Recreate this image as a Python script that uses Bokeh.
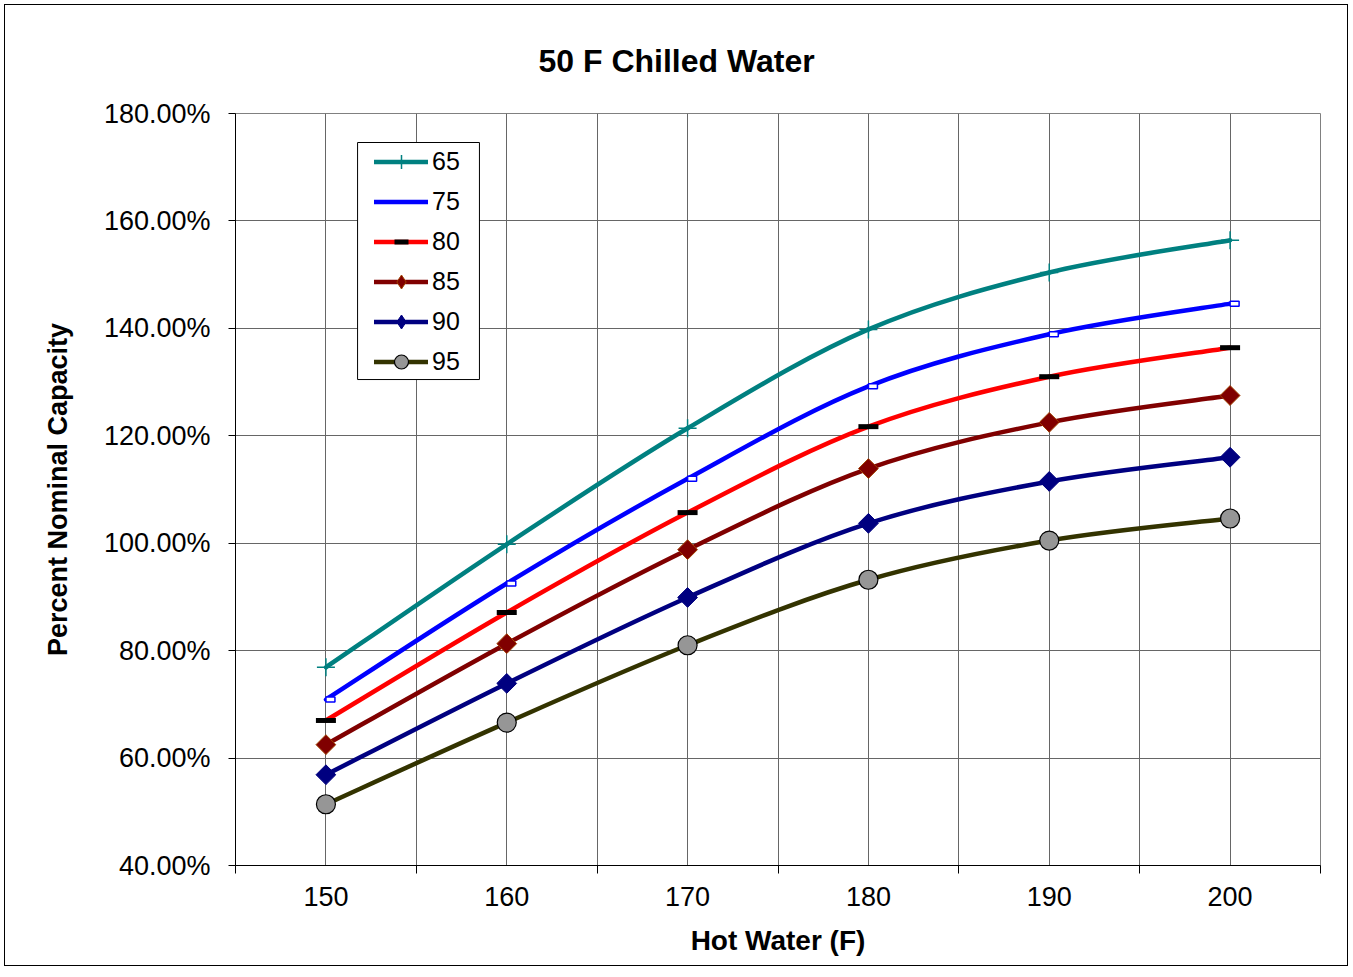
from bokeh.plotting import figure
from bokeh.models import (Range1d, FixedTicker, PrintfTickFormatter, Legend, LegendItem,
                          BoxAnnotation, ColumnDataSource)
from bokeh.transform import dodge
from bokeh.embed import file_html
from bokeh.resources import INLINE
import numpy as np

# ---------------- data ----------------
hot_water = [150, 160, 170, 180, 190, 200]
series_names = ["65", "75", "80", "85", "90", "95"]
cap_65 = [76.9, 99.8, 121.4, 139.8, 150.4, 156.4]
cap_75 = [70.9, 92.5, 112.0, 129.2, 138.9, 144.6]
cap_80 = [67.0, 87.1, 105.7, 121.7, 131.0, 136.4]
cap_85 = [62.5, 81.3, 98.8, 113.9, 122.5, 127.5]
cap_90 = [56.9, 73.9, 89.9, 103.7, 111.5, 116.0]
cap_95 = [51.4, 66.6, 81.0, 93.2, 100.5, 104.6]
y_ticks = [40, 60, 80, 100, 120, 140, 160, 180]

FONT = "Liberation Sans"

p = figure(width=1342, height=966, output_backend="svg", toolbar_location=None,
           x_range=Range1d(145, 205), y_range=Range1d(40, 180),
           min_border_left=230, min_border_right=27, min_border_top=108, min_border_bottom=100)
p.frame_width = 1085
p.frame_height = 752

# title
p.title.text = "50 F Chilled Water"
p.title.text_font = FONT
p.title.text_font_size = "32px"
p.title.text_font_style = "bold"
p.title.text_color = "black"
p.title.align = "left"
p.title.offset = 303
p.title.standoff = 70

p.outline_line_color = "#808080"
p.outline_line_width = 1
p.background_fill_color = "white"
p.border_fill_color = "white"

# axes
xa = p.xaxis[0]
xa.ticker = FixedTicker(ticks=hot_water, minor_ticks=list(range(145, 206, 10)))
xa.major_tick_out = 0
xa.major_tick_in = 0
xa.minor_tick_out = 8
xa.minor_tick_in = 0
xa.axis_line_color = "black"
xa.minor_tick_line_color = "black"
xa.major_label_text_font = FONT
xa.major_label_text_font_size = "27px"
xa.major_label_text_color = "black"
xa.major_label_standoff = 13
xa.axis_label = "Hot Water (F)"
xa.axis_label_text_font = FONT
xa.axis_label_text_font_size = "28px"
xa.axis_label_text_font_style = "bold"
xa.axis_label_text_color = "black"
xa.axis_label_standoff = 16

ya = p.yaxis[0]
ya.ticker = FixedTicker(ticks=y_ticks, minor_ticks=[])
ya.formatter = PrintfTickFormatter(format="%.2f%%")
ya.major_tick_out = 7
ya.major_tick_in = 0
ya.axis_line_color = "black"
ya.major_tick_line_color = "black"
ya.major_label_text_font = FONT
ya.major_label_text_font_size = "27px"
ya.major_label_text_color = "black"
ya.major_label_standoff = 18
ya.axis_label = "Percent Nominal Capacity"
ya.axis_label_text_font = FONT
ya.axis_label_text_font_size = "27px"
ya.axis_label_text_font_style = "bold"
ya.axis_label_text_color = "black"
ya.axis_label_standoff = 28

p.xgrid.grid_line_color = "#666666"
p.xgrid.minor_grid_line_color = "#666666"
p.ygrid.grid_line_color = "#666666"


def smooth_segments(xs, ys):
    """Bezier control points for a smoothed line through the data points."""
    xs = np.asarray(xs, float)
    ys = np.asarray(ys, float)
    n = len(xs)
    x0, y0, x1, y1, cx0, cy0, cx1, cy1 = ([] for _ in range(8))
    for i in range(n - 1):
        pa = i - 1 if i > 0 else i
        pd = i + 2 if i + 2 < n else i + 1
        x0.append(xs[i]); y0.append(ys[i])
        x1.append(xs[i + 1]); y1.append(ys[i + 1])
        cx0.append(xs[i] + (xs[i + 1] - xs[pa]) / 6.0)
        cy0.append(ys[i] + (ys[i + 1] - ys[pa]) / 6.0)
        cx1.append(xs[i + 1] - (xs[pd] - xs[i]) / 6.0)
        cy1.append(ys[i + 1] - (ys[pd] - ys[i]) / 6.0)
    return dict(x0=x0, y0=y0, x1=x1, y1=y1, cx0=cx0, cy0=cy0, cx1=cx1, cy1=cy1)


series = [cap_65, cap_75, cap_80, cap_85, cap_90, cap_95]
line_colors = ["#008080", "#0000FF", "#FF0000", "#800000", "#000080", "#333300"]

items = []
for name, vals, col in zip(series_names, series, line_colors):
    seg = ColumnDataSource(smooth_segments(hot_water, vals))
    r_line = p.bezier(x0="x0", y0="y0", x1="x1", y1="y1", cx0="cx0", cy0="cy0",
                      cx1="cx1", cy1="cy1", source=seg, line_color=col, line_width=4.5,
                      line_cap="round", line_join="round")
    src = ColumnDataSource(dict(x=hot_water, y=vals))
    legend_rs = [r_line]
    if name == "65":
        r_m = p.scatter("x", "y", source=src, marker="cross", size=18,
                        line_color="#008080", line_width=1.5)
        legend_rs.append(r_m)
    elif name == "75":
        p.rect(x=dodge("x", 0.25), y="y", source=src, width=9, height=5,
               width_units="screen", height_units="screen",
               fill_color="white", line_color="#0000FF", line_width=1.5)
    elif name == "80":
        r_m = p.scatter("x", "y", source=src, marker="dash", size=20,
                        line_color="black", line_width=5)
        legend_rs.append(r_m)
    elif name in ("85", "90"):
        edge = "#A04000" if name == "85" else "#000080"
        p.scatter("x", "y", source=src, marker="square", size=14, angle=np.pi / 4,
                  fill_color=col, line_color=edge, line_width=1)
        # legend-only diamond (zero size on the plot itself)
        r_leg = p.scatter("x", "y", source=src, marker="diamond", size=0,
                          fill_color=col, line_color=edge, line_width=1)
        legend_rs.append(r_leg)
    else:
        r_m = p.scatter("x", "y", source=src, marker="circle", size=19,
                        fill_color="#969696", line_color="black", line_width=1.2)
        legend_rs.append(r_m)
    items.append(LegendItem(label=name, renderers=legend_rs))

# legend frame
box = BoxAnnotation(left=151.75, right=158.49, top=174.6, bottom=130.47,
                    fill_color="white", fill_alpha=1.0, line_color="#000000",
                    line_width=1, line_alpha=1.0)
p.add_layout(box)

legend = Legend(items=items, location=(139, 486), margin=0, padding=0,
                spacing=5, glyph_width=54, glyph_height=35, label_height=35,
                label_standoff=4, border_line_color=None, background_fill_alpha=0,
                label_text_font=FONT, label_text_font_size="25px", label_text_color="black")
p.add_layout(legend, "center")

p.styles = {"border": "1px solid #000000", "margin": "4px"}

open("out.html", "w").write(file_html(p, INLINE))
